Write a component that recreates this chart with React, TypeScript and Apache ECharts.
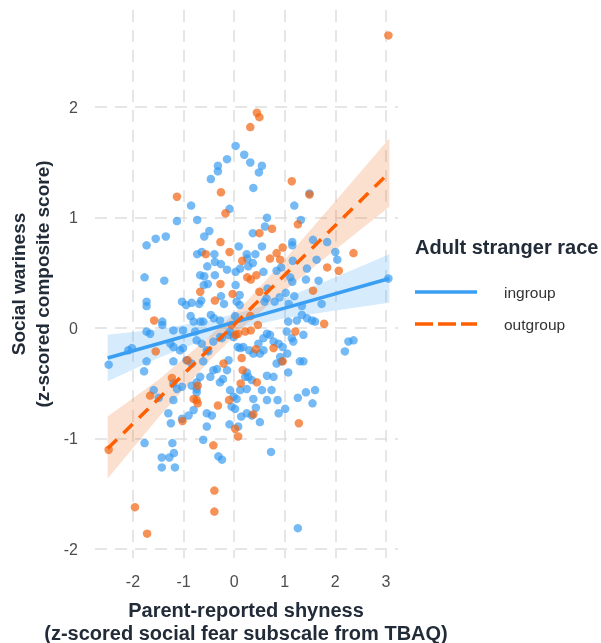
import React, { useEffect, useRef } from "react";
import * as echarts from "echarts";

const xTicks = [-2, -1, 0, 1, 2, 3];
const yTicks = [-2, -1, 0, 1, 2];

const ingroupPoints: [number, number][] = [
  [0.03, 1.65], [0.2, 1.57], [0.32, 1.5], [0.55, 1.47], [0.49, 1.41], [-0.14, 1.53], [-0.32, 1.47], [-0.32, 1.42],
  [-0.46, 1.35], [0.38, 1.27], [1.49, 1.22], [-0.85, 1.11], [1.19, 1.11], [-0.09, 1.08], [-0.73, 0.98], [-1.13, 0.97],
  [0.65, 1.0], [1.32, 0.98], [0.61, 0.92], [-0.49, 0.88], [-0.59, 0.83], [0.37, 0.86], [-1.73, 0.75], [-1.55, 0.81],
  [-1.35, 0.83], [0.09, 0.74], [0.55, 0.74], [1.15, 0.78], [1.15, 0.75], [1.56, 0.8], [1.84, 0.78], [-0.73, 0.67],
  [-0.64, 0.69], [-0.39, 0.67], [0.25, 0.67], [0.42, 0.67], [0.26, 0.63], [0.37, 0.59], [-0.53, 0.56], [-0.26, 0.58],
  [-0.38, 0.6], [0.28, 0.56], [0.12, 0.54], [-0.14, 0.53], [0.03, 0.51], [1.16, 0.61], [2.0, 0.69], [2.04, 0.62],
  [1.63, 0.62], [1.44, 0.54], [-1.77, 0.46], [-1.38, 0.43], [-0.67, 0.48], [-0.59, 0.47], [-0.38, 0.48], [-0.6, 0.39],
  [-0.52, 0.4], [0.03, 0.39], [0.58, 0.51], [0.84, 0.52], [0.93, 0.55], [1.11, 0.46], [1.15, 0.42], [1.42, 0.44],
  [1.67, 0.43], [3.05, 0.45], [-0.26, 0.29], [0.11, 0.3], [0.05, 0.24], [-1.03, 0.24], [-0.95, 0.21], [-0.84, 0.23],
  [-0.69, 0.22], [-0.65, 0.25], [-0.2, 0.22], [0.11, 0.21], [0.6, 0.24], [0.64, 0.27], [0.8, 0.24], [0.9, 0.28],
  [1.02, 0.32], [1.19, 0.29], [1.08, 0.22], [1.73, 0.22], [-1.73, 0.24], [-1.73, 0.2], [1.34, 0.2], [0.66, 0.36],
  [-2.48, -0.33], [-2.09, -0.2], [-2.02, -0.18], [-1.73, -0.03], [-1.66, -0.05], [-1.73, -0.3], [-1.78, -0.39], [-1.42, 0.06],
  [-1.42, 0.03], [-1.2, -0.02], [-1.01, -0.02], [-0.86, 0.11], [-0.8, 0.06], [-0.67, 0.06], [-0.61, 0.06], [-0.46, 0.12],
  [-0.4, 0.09], [-0.28, 0.07], [0.02, 0.11], [-1.26, -0.14], [-1.2, -0.17], [-1.07, -0.2], [-1.01, -0.18], [-1.2, -0.3],
  [-0.94, -0.29], [-0.84, -0.32], [-0.74, -0.11], [-0.64, -0.14], [-0.54, -0.2], [-0.51, -0.21], [-0.41, -0.12], [-0.28, -0.08],
  [-0.24, -0.09], [-0.11, -0.06], [-0.08, -0.03], [-0.01, -0.08], [0.07, -0.17], [0.12, -0.18], [0.18, -0.17], [0.3, -0.2],
  [0.38, -0.23], [0.48, -0.14], [0.58, -0.09], [0.65, -0.05], [0.71, -0.06], [0.78, -0.12], [0.88, -0.14], [0.96, -0.17],
  [1.04, -0.03], [1.07, 0.06], [1.14, -0.09], [1.17, -0.12], [1.24, 0.07], [1.34, 0.12], [1.44, 0.09], [1.54, 0.07],
  [1.6, 0.06], [2.19, -0.21], [2.26, -0.12], [2.36, -0.11], [1.05, -0.23], [0.84, -0.32], [0.94, -0.3], [0.65, -0.43],
  [0.78, -0.44], [1.07, -0.4], [1.3, -0.3], [1.37, -0.3], [0.55, -0.56], [0.74, -0.56], [0.65, -0.65], [0.86, -0.65],
  [1.26, -0.63], [1.42, -0.58], [1.6, -0.56], [1.55, -0.68], [1.01, -0.73], [0.88, -0.77], [0.51, -0.85], [0.35, -0.79],
  [0.43, -0.72], [0.25, -0.77], [0.73, -1.12], [0.12, -0.56], [0.25, -0.55], [0.22, -0.44], [0.28, -0.44], [0.35, -0.47],
  [-0.01, -0.62], [0.05, -0.64], [-0.05, -0.71], [0.02, -0.73], [0.14, -0.8], [-0.09, -0.87], [0.08, -0.89], [-0.14, -0.38],
  [-0.11, -0.29], [-0.08, -0.56], [-0.28, -0.49], [-0.22, -0.46], [-0.41, -0.38], [-0.34, -0.37], [-0.47, -0.44], [-0.67, -0.44],
  [-0.74, -0.49], [-0.74, -0.55], [-0.74, -0.58], [-0.84, -0.52], [-1.03, -0.53], [-1.13, -0.55], [-1.59, -0.56], [-1.49, -0.63],
  [-1.2, -0.65], [-1.3, -0.77], [-1.25, -0.86], [-1.03, -0.82], [-0.9, -0.79], [-0.8, -0.74], [-0.54, -0.89], [-0.44, -0.79],
  [-0.61, -1.01], [-1.77, -1.04], [-1.22, -1.04], [-1.19, -1.13], [-1.43, -1.17], [-1.28, -1.17], [-1.43, -1.26], [-1.17, -1.26],
  [-0.31, -1.16], [-0.24, -1.19], [1.26, -1.81], [-0.77, -0.03], [-0.61, -0.3], [-1.2, -0.5], [-0.54, -0.77], [0.25, -0.4],
  [1.37, -0.06], [0.51, -0.23], [0.58, -0.2], [0.91, -0.26], [0.38, -0.64],
];

const outgroupPoints: [number, number][] = [
  [3.05, 2.65], [0.45, 1.95], [0.5, 1.91], [0.32, 1.82], [-1.13, 1.19], [-0.26, 1.23], [1.14, 1.33], [1.49, 1.21],
  [-0.17, 1.04], [0.5, 0.86], [0.75, 0.9], [1.26, 0.94], [-0.27, 0.78], [-0.09, 0.69], [-0.56, 0.67], [0.16, 0.61],
  [0.96, 0.73], [0.84, 0.68], [0.71, 0.63], [0.91, 0.62], [2.36, 0.68], [1.84, 0.55], [2.07, 0.52], [0.26, 0.46],
  [0.44, 0.48], [0.33, 0.44], [-0.27, 0.4], [-0.67, 0.33], [-0.03, 0.31], [0.5, 0.33], [1.56, 0.34], [-0.38, 0.25],
  [-1.58, 0.07], [-1.55, -0.21], [-0.92, -0.29], [-1.23, -0.45], [-1.66, -0.61], [-0.8, -0.64], [-0.74, -0.65], [-0.72, -0.68],
  [-0.72, -0.52], [-1.02, -0.84], [-0.32, -0.7], [-0.1, -0.65], [-0.21, -0.32], [0.03, -0.06], [0.08, -0.05], [0.15, -0.27],
  [0.17, -0.38], [0.13, -0.5], [0.45, -0.49], [0.43, -0.19], [0.78, -0.18], [0.96, -0.3], [1.21, -0.03], [0.22, -0.03],
  [0.33, -0.02], [0.47, 0.03], [0.32, 0.11], [1.78, 0.04], [0.38, -0.78], [1.28, -0.86], [0.02, -0.91], [0.08, -0.98],
  [-0.41, -1.06], [-2.48, -1.1], [-0.39, -1.47], [-0.39, -1.66], [-1.96, -1.62], [-1.72, -1.86], [-0.05, 0.03],
];

const fitX = [-2.5, 3.07];
const ingroupFit = [-0.27, 0.45];
const outgroupFit = [-1.09, 1.41];

const bandX = [-2.5, -1.5, -0.5, 0.2, 1.0, 2.0, 3.07];
const ingroupUpper = [-0.06, -0.01, 0.07, 0.15, 0.27, 0.46, 0.67];
const ingroupLower = [-0.48, -0.27, -0.09, 0.01, 0.09, 0.16, 0.23];
const outgroupUpper = [-0.8, -0.47, -0.08, 0.22, 0.62, 1.15, 1.72];
const outgroupLower = [-1.36, -0.81, -0.3, 0.02, 0.34, 0.71, 1.1];

const groups = ["ingroup", "outgroup"];

const BLUE = "#3399f0";
const ORANGE = "#f26410";
const BLUE_LINE = "#3a9ff2";
const ORANGE_LINE = "#ff5f00";
const FONT = "'Liberation Sans', Arial, Helvetica, sans-serif";
const TITLE_COLOR = "#222b38";

function bandSeries(upper: number[], lower: number[], fill: string) {
  return {
    type: "custom",
    silent: true,
    data: bandX.map((x, i) => [x, lower[i], upper[i]]),
    encode: { x: 0, y: [1, 2] },
    renderItem: (params: any, api: any) => {
      if (params.dataIndex !== 0) return null;
      const pts: number[][] = [];
      for (let i = 0; i < bandX.length; i++) pts.push(api.coord([bandX[i], upper[i]]));
      for (let i = bandX.length - 1; i >= 0; i--) pts.push(api.coord([bandX[i], lower[i]]));
      return { type: "polygon", shape: { points: pts }, style: { fill } };
    },
  };
}

function textStyle(text: string, font: string, fill: string, align: string) {
  return { text, font, fill, align, verticalAlign: "middle", textAlign: align, textVerticalAlign: "middle" };
}

export default function App() {
  const ref = useRef<HTMLDivElement>(null);
  useEffect(() => {
    if (!ref.current) return;
    const chart = echarts.init(ref.current, null, { renderer: "svg" });
    const isTick = (v: number, ticks: number[]) => ticks.some((t) => Math.abs(t - v) < 1e-6);
    const gridLine = { show: true, showMinLine: false, showMaxLine: false, lineStyle: { color: "#dedede", width: 1.5, type: [12, 8] } };
    chart.setOption({
      animation: false,
      grid: { left: 95, right: 203, top: 10, bottom: 85, containLabel: false },
      xAxis: {
        type: "value",
        min: -2.75,
        max: 3.24,
        splitNumber: 6,
        axisLine: { show: false },
        axisTick: { show: false },
        splitLine: gridLine,
        axisLabel: {
          showMinLabel: false,
          showMaxLabel: false,
          margin: 15,
          fontSize: 16,
          color: "#4d4d4d",
          fontFamily: FONT,
          formatter: (v: number) => (isTick(v, xTicks) ? String(Math.round(v)) : ""),
        },
      },
      yAxis: {
        type: "value",
        min: -2.08,
        max: 2.88,
        splitNumber: 5,
        axisLine: { show: false },
        axisTick: { show: false },
        splitLine: gridLine,
        axisLabel: {
          showMinLabel: false,
          showMaxLabel: false,
          margin: 17,
          fontSize: 16,
          color: "#4d4d4d",
          fontFamily: FONT,
          formatter: (v: number) => (isTick(v, yTicks) ? String(Math.round(v)) : ""),
        },
      },
      series: [
        {
          type: "scatter",
          name: groups[0],
          data: ingroupPoints,
          symbolSize: 8.5,
          itemStyle: { color: BLUE, opacity: 0.68 },
        },
        {
          type: "scatter",
          name: groups[1],
          data: outgroupPoints,
          symbolSize: 8.5,
          itemStyle: { color: ORANGE, opacity: 0.7 },
        },
        bandSeries(ingroupUpper, ingroupLower, "rgba(51,153,240,0.2)"),
        bandSeries(outgroupUpper, outgroupLower, "rgba(242,100,16,0.2)"),
        {
          type: "line",
          data: fitX.map((x, i) => [x, ingroupFit[i]]),
          symbol: "none",
          lineStyle: { color: BLUE_LINE, width: 3.5 },
        },
        {
          type: "line",
          data: fitX.map((x, i) => [x, outgroupFit[i]]),
          symbol: "none",
          lineStyle: { color: ORANGE_LINE, width: 3.5, type: [13, 9] },
        },
      ],
      graphic: [
        { type: "text", x: 246, y: 610, style: textStyle("Parent-reported shyness", `bold 20px ${FONT}`, TITLE_COLOR, "center") },
        { type: "text", x: 246, y: 633, style: textStyle("(z-scored social fear subscale from TBAQ)", `bold 20px ${FONT}`, TITLE_COLOR, "center") },
        { type: "text", x: 18, y: 284, rotation: Math.PI / 2, style: textStyle("Social wariness", `bold 19px ${FONT}`, TITLE_COLOR, "center") },
        { type: "text", x: 42, y: 284, rotation: Math.PI / 2, style: textStyle("(z-scored composite score)", `bold 19px ${FONT}`, TITLE_COLOR, "center") },
        { type: "text", x: 415, y: 247, style: textStyle("Adult stranger race", `bold 20px ${FONT}`, TITLE_COLOR, "left") },
        { type: "line", shape: { x1: 415, y1: 292, x2: 477, y2: 292 }, style: { stroke: BLUE_LINE, lineWidth: 3.5 } },
        { type: "line", shape: { x1: 415, y1: 324, x2: 477, y2: 324 }, style: { stroke: ORANGE_LINE, lineWidth: 3.5, lineDash: [18, 5] } },
        { type: "text", x: 504, y: 292, style: textStyle(groups[0], `15.5px ${FONT}`, "#333333", "left") },
        { type: "text", x: 504, y: 324, style: textStyle(groups[1], `15.5px ${FONT}`, "#333333", "left") },
      ],
    });
    return () => chart.dispose();
  }, []);
  return <div ref={ref} style={{ position: "fixed", left: 0, top: 0, width: 601, height: 643 }} />;
}
